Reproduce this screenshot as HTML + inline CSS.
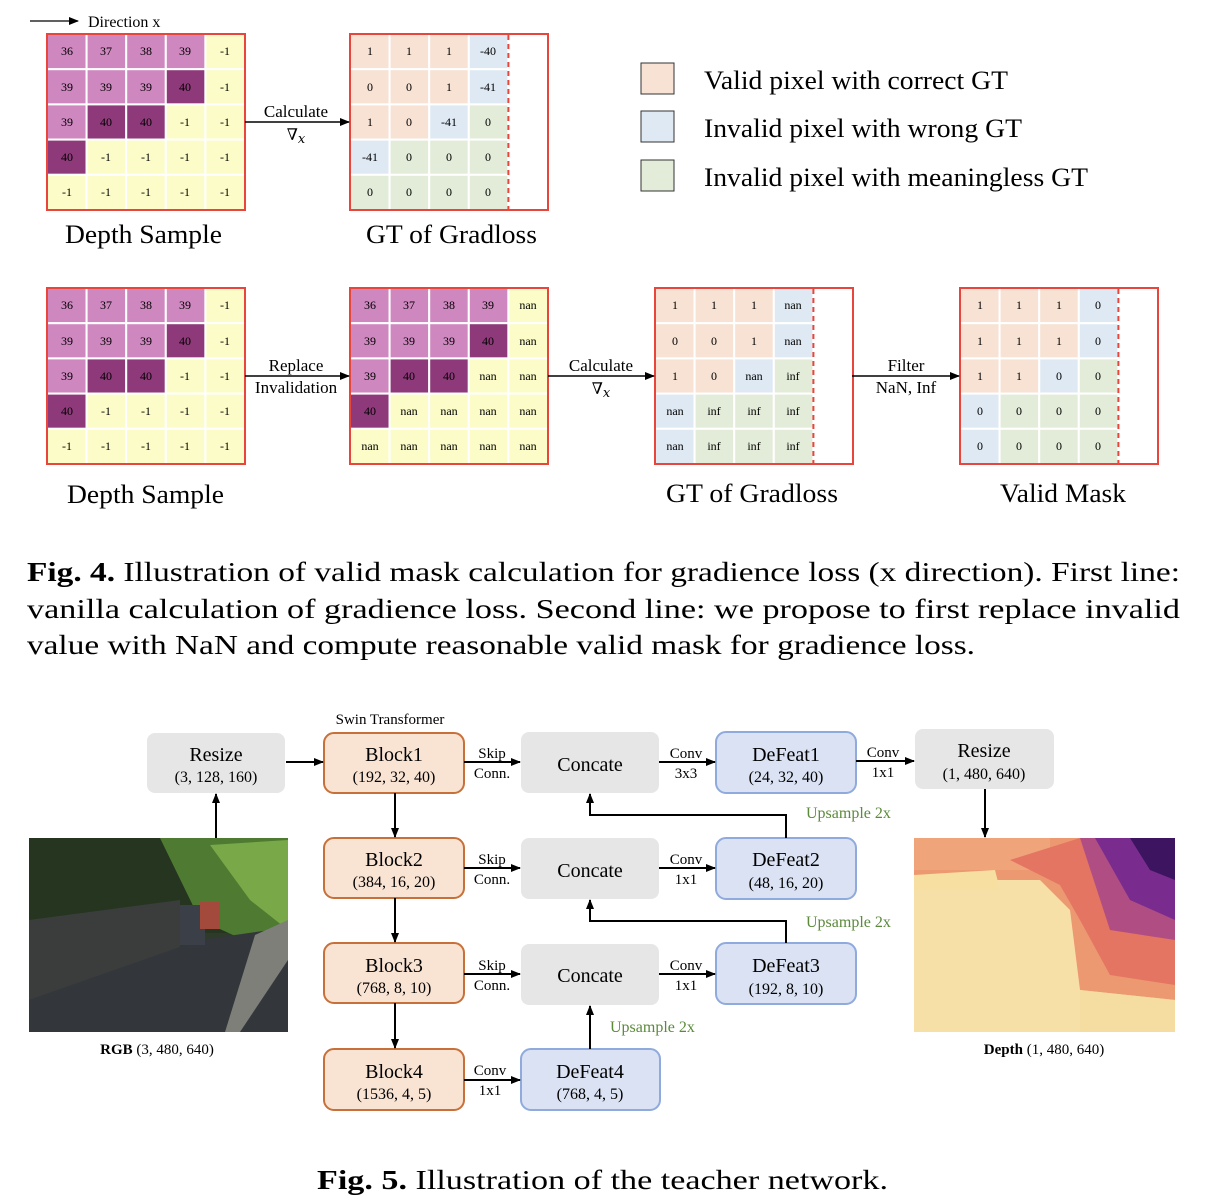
<!DOCTYPE html>
<html><head><meta charset="utf-8"><style>
body{margin:0;background:#fff;}
svg{display:block;font-family:"Liberation Serif",serif;}
.c text{font-size:12px;text-anchor:middle;dominant-baseline:central;}
</style></head><body>
<svg width="1210" height="1204" viewBox="0 0 1210 1204" xmlns="http://www.w3.org/2000/svg">
<defs>
<marker id="a" markerWidth="10" markerHeight="8" refX="9" refY="4" orient="auto" markerUnits="userSpaceOnUse"><path d="M0,0 L10,4 L0,8 Z" fill="#000"/></marker>
</defs>
<rect width="1210" height="1204" fill="#fff"/>

<!-- Direction x -->
<line x1="30" y1="21" x2="78" y2="21" stroke="#000" stroke-width="1.3" marker-end="url(#a)"/>
<text x="88" y="27" font-size="16">Direction x</text>

<!-- GRID 1 top -->
<g class="c" stroke="#fff" stroke-width="2">
<rect x="47" y="34" width="198" height="176" fill="#fbfcc8"/>
<rect x="47" y="34" width="39.6" height="35.2" fill="#cf87c0"/><rect x="86.6" y="34" width="39.6" height="35.2" fill="#cf87c0"/><rect x="126.2" y="34" width="39.6" height="35.2" fill="#cf87c0"/><rect x="165.8" y="34" width="39.6" height="35.2" fill="#cf87c0"/><rect x="205.4" y="34" width="39.6" height="35.2" fill="#fbfcc8"/>
<rect x="47" y="69.2" width="39.6" height="35.2" fill="#cf87c0"/><rect x="86.6" y="69.2" width="39.6" height="35.2" fill="#cf87c0"/><rect x="126.2" y="69.2" width="39.6" height="35.2" fill="#cf87c0"/><rect x="165.8" y="69.2" width="39.6" height="35.2" fill="#8e3a7a"/><rect x="205.4" y="69.2" width="39.6" height="35.2" fill="#fbfcc8"/>
<rect x="47" y="104.4" width="39.6" height="35.2" fill="#cf87c0"/><rect x="86.6" y="104.4" width="39.6" height="35.2" fill="#8e3a7a"/><rect x="126.2" y="104.4" width="39.6" height="35.2" fill="#8e3a7a"/><rect x="165.8" y="104.4" width="39.6" height="35.2" fill="#fbfcc8"/><rect x="205.4" y="104.4" width="39.6" height="35.2" fill="#fbfcc8"/>
<rect x="47" y="139.6" width="39.6" height="35.2" fill="#8e3a7a"/><rect x="86.6" y="139.6" width="39.6" height="35.2" fill="#fbfcc8"/><rect x="126.2" y="139.6" width="39.6" height="35.2" fill="#fbfcc8"/><rect x="165.8" y="139.6" width="39.6" height="35.2" fill="#fbfcc8"/><rect x="205.4" y="139.6" width="39.6" height="35.2" fill="#fbfcc8"/>
<rect x="47" y="174.8" width="39.6" height="35.2" fill="#fbfcc8"/><rect x="86.6" y="174.8" width="39.6" height="35.2" fill="#fbfcc8"/><rect x="126.2" y="174.8" width="39.6" height="35.2" fill="#fbfcc8"/><rect x="165.8" y="174.8" width="39.6" height="35.2" fill="#fbfcc8"/><rect x="205.4" y="174.8" width="39.6" height="35.2" fill="#fbfcc8"/>
<g stroke="none">
<text x="67" y="51">36</text><text x="106" y="51">37</text><text x="146" y="51">38</text><text x="185" y="51">39</text><text x="225" y="51">-1</text>
<text x="67" y="87">39</text><text x="106" y="87">39</text><text x="146" y="87">39</text><text x="185" y="87">40</text><text x="225" y="87">-1</text>
<text x="67" y="122">39</text><text x="106" y="122">40</text><text x="146" y="122">40</text><text x="185" y="122">-1</text><text x="225" y="122">-1</text>
<text x="67" y="157">40</text><text x="106" y="157">-1</text><text x="146" y="157">-1</text><text x="185" y="157">-1</text><text x="225" y="157">-1</text>
<text x="67" y="192">-1</text><text x="106" y="192">-1</text><text x="146" y="192">-1</text><text x="185" y="192">-1</text><text x="225" y="192">-1</text>
</g>
<rect x="47" y="34" width="198" height="176" fill="none" stroke="#e8453c"/>
</g>

<!-- GRID 2 top -->
<g class="c" stroke="#fff" stroke-width="2">
<rect x="350" y="34" width="198" height="176" fill="#fff"/>
<rect x="350" y="34" width="39.6" height="35.2" fill="#f7e2d4"/><rect x="389.6" y="34" width="39.6" height="35.2" fill="#f7e2d4"/><rect x="429.2" y="34" width="39.6" height="35.2" fill="#f7e2d4"/><rect x="468.8" y="34" width="39.6" height="35.2" fill="#dfe9f3"/>
<rect x="350" y="69.2" width="39.6" height="35.2" fill="#f7e2d4"/><rect x="389.6" y="69.2" width="39.6" height="35.2" fill="#f7e2d4"/><rect x="429.2" y="69.2" width="39.6" height="35.2" fill="#f7e2d4"/><rect x="468.8" y="69.2" width="39.6" height="35.2" fill="#dfe9f3"/>
<rect x="350" y="104.4" width="39.6" height="35.2" fill="#f7e2d4"/><rect x="389.6" y="104.4" width="39.6" height="35.2" fill="#f7e2d4"/><rect x="429.2" y="104.4" width="39.6" height="35.2" fill="#dfe9f3"/><rect x="468.8" y="104.4" width="39.6" height="35.2" fill="#e3ecd9"/>
<rect x="350" y="139.6" width="39.6" height="35.2" fill="#dfe9f3"/><rect x="389.6" y="139.6" width="39.6" height="35.2" fill="#e3ecd9"/><rect x="429.2" y="139.6" width="39.6" height="35.2" fill="#e3ecd9"/><rect x="468.8" y="139.6" width="39.6" height="35.2" fill="#e3ecd9"/>
<rect x="350" y="174.8" width="39.6" height="35.2" fill="#e3ecd9"/><rect x="389.6" y="174.8" width="39.6" height="35.2" fill="#e3ecd9"/><rect x="429.2" y="174.8" width="39.6" height="35.2" fill="#e3ecd9"/><rect x="468.8" y="174.8" width="39.6" height="35.2" fill="#e3ecd9"/>
<g stroke="none">
<text x="370" y="51">1</text><text x="409" y="51">1</text><text x="449" y="51">1</text><text x="488" y="51">-40</text>
<text x="370" y="87">0</text><text x="409" y="87">0</text><text x="449" y="87">1</text><text x="488" y="87">-41</text>
<text x="370" y="122">1</text><text x="409" y="122">0</text><text x="449" y="122">-41</text><text x="488" y="122">0</text>
<text x="370" y="157">-41</text><text x="409" y="157">0</text><text x="449" y="157">0</text><text x="488" y="157">0</text>
<text x="370" y="192">0</text><text x="409" y="192">0</text><text x="449" y="192">0</text><text x="488" y="192">0</text>
</g>
<line x1="508.4" y1="35" x2="508.4" y2="209" stroke="#e8453c" stroke-dasharray="5,4"/>
<rect x="350" y="34" width="198" height="176" fill="none" stroke="#e8453c"/>
</g>

<line x1="245" y1="122" x2="349" y2="122" stroke="#000" stroke-width="1.5" marker-end="url(#a)"/>
<text x="296" y="117" font-size="17" text-anchor="middle">Calculate</text>
<text x="296" y="140" font-size="16" text-anchor="middle" font-family="DejaVu Serif, serif">∇<tspan font-style="italic" font-size="13" dy="3">x</tspan></text>
<text x="65" y="243" font-size="26" textLength="157" lengthAdjust="spacingAndGlyphs">Depth Sample</text>
<text x="366" y="243" font-size="26" textLength="171" lengthAdjust="spacingAndGlyphs">GT of Gradloss</text>

<!-- legend -->
<rect x="641" y="63" width="33" height="31" fill="#f7e2d4" stroke="#333"/>
<rect x="641" y="111" width="33" height="31" fill="#dfe9f3" stroke="#333"/>
<rect x="641" y="160" width="33" height="31" fill="#e3ecd9" stroke="#333"/>
<text x="704" y="89" font-size="26" textLength="304" lengthAdjust="spacingAndGlyphs">Valid pixel with correct GT</text>
<text x="704" y="137" font-size="26" textLength="318" lengthAdjust="spacingAndGlyphs">Invalid pixel with wrong GT</text>
<text x="704" y="186" font-size="26" textLength="384" lengthAdjust="spacingAndGlyphs">Invalid pixel with meaningless GT</text>

<!-- ROW 2 grid 1 -->
<g class="c" stroke="#fff" stroke-width="2" transform="translate(0,254)">
<rect x="47" y="34" width="198" height="176" fill="#fbfcc8"/>
<rect x="47" y="34" width="39.6" height="35.2" fill="#cf87c0"/><rect x="86.6" y="34" width="39.6" height="35.2" fill="#cf87c0"/><rect x="126.2" y="34" width="39.6" height="35.2" fill="#cf87c0"/><rect x="165.8" y="34" width="39.6" height="35.2" fill="#cf87c0"/><rect x="205.4" y="34" width="39.6" height="35.2" fill="#fbfcc8"/>
<rect x="47" y="69.2" width="39.6" height="35.2" fill="#cf87c0"/><rect x="86.6" y="69.2" width="39.6" height="35.2" fill="#cf87c0"/><rect x="126.2" y="69.2" width="39.6" height="35.2" fill="#cf87c0"/><rect x="165.8" y="69.2" width="39.6" height="35.2" fill="#8e3a7a"/><rect x="205.4" y="69.2" width="39.6" height="35.2" fill="#fbfcc8"/>
<rect x="47" y="104.4" width="39.6" height="35.2" fill="#cf87c0"/><rect x="86.6" y="104.4" width="39.6" height="35.2" fill="#8e3a7a"/><rect x="126.2" y="104.4" width="39.6" height="35.2" fill="#8e3a7a"/><rect x="165.8" y="104.4" width="39.6" height="35.2" fill="#fbfcc8"/><rect x="205.4" y="104.4" width="39.6" height="35.2" fill="#fbfcc8"/>
<rect x="47" y="139.6" width="39.6" height="35.2" fill="#8e3a7a"/><rect x="86.6" y="139.6" width="39.6" height="35.2" fill="#fbfcc8"/><rect x="126.2" y="139.6" width="39.6" height="35.2" fill="#fbfcc8"/><rect x="165.8" y="139.6" width="39.6" height="35.2" fill="#fbfcc8"/><rect x="205.4" y="139.6" width="39.6" height="35.2" fill="#fbfcc8"/>
<rect x="47" y="174.8" width="39.6" height="35.2" fill="#fbfcc8"/><rect x="86.6" y="174.8" width="39.6" height="35.2" fill="#fbfcc8"/><rect x="126.2" y="174.8" width="39.6" height="35.2" fill="#fbfcc8"/><rect x="165.8" y="174.8" width="39.6" height="35.2" fill="#fbfcc8"/><rect x="205.4" y="174.8" width="39.6" height="35.2" fill="#fbfcc8"/>
<g stroke="none">
<text x="67" y="51">36</text><text x="106" y="51">37</text><text x="146" y="51">38</text><text x="185" y="51">39</text><text x="225" y="51">-1</text>
<text x="67" y="87">39</text><text x="106" y="87">39</text><text x="146" y="87">39</text><text x="185" y="87">40</text><text x="225" y="87">-1</text>
<text x="67" y="122">39</text><text x="106" y="122">40</text><text x="146" y="122">40</text><text x="185" y="122">-1</text><text x="225" y="122">-1</text>
<text x="67" y="157">40</text><text x="106" y="157">-1</text><text x="146" y="157">-1</text><text x="185" y="157">-1</text><text x="225" y="157">-1</text>
<text x="67" y="192">-1</text><text x="106" y="192">-1</text><text x="146" y="192">-1</text><text x="185" y="192">-1</text><text x="225" y="192">-1</text>
</g>
<rect x="47" y="34" width="198" height="176" fill="none" stroke="#e8453c"/>
</g>

<!-- ROW 2 grid 2 (nan) -->
<g class="c" stroke="#fff" stroke-width="2" transform="translate(303,254)">
<rect x="47" y="34" width="198" height="176" fill="#fbfcc8"/>
<rect x="47" y="34" width="39.6" height="35.2" fill="#cf87c0"/><rect x="86.6" y="34" width="39.6" height="35.2" fill="#cf87c0"/><rect x="126.2" y="34" width="39.6" height="35.2" fill="#cf87c0"/><rect x="165.8" y="34" width="39.6" height="35.2" fill="#cf87c0"/><rect x="205.4" y="34" width="39.6" height="35.2" fill="#fbfcc8"/>
<rect x="47" y="69.2" width="39.6" height="35.2" fill="#cf87c0"/><rect x="86.6" y="69.2" width="39.6" height="35.2" fill="#cf87c0"/><rect x="126.2" y="69.2" width="39.6" height="35.2" fill="#cf87c0"/><rect x="165.8" y="69.2" width="39.6" height="35.2" fill="#8e3a7a"/><rect x="205.4" y="69.2" width="39.6" height="35.2" fill="#fbfcc8"/>
<rect x="47" y="104.4" width="39.6" height="35.2" fill="#cf87c0"/><rect x="86.6" y="104.4" width="39.6" height="35.2" fill="#8e3a7a"/><rect x="126.2" y="104.4" width="39.6" height="35.2" fill="#8e3a7a"/><rect x="165.8" y="104.4" width="39.6" height="35.2" fill="#fbfcc8"/><rect x="205.4" y="104.4" width="39.6" height="35.2" fill="#fbfcc8"/>
<rect x="47" y="139.6" width="39.6" height="35.2" fill="#8e3a7a"/><rect x="86.6" y="139.6" width="39.6" height="35.2" fill="#fbfcc8"/><rect x="126.2" y="139.6" width="39.6" height="35.2" fill="#fbfcc8"/><rect x="165.8" y="139.6" width="39.6" height="35.2" fill="#fbfcc8"/><rect x="205.4" y="139.6" width="39.6" height="35.2" fill="#fbfcc8"/>
<rect x="47" y="174.8" width="39.6" height="35.2" fill="#fbfcc8"/><rect x="86.6" y="174.8" width="39.6" height="35.2" fill="#fbfcc8"/><rect x="126.2" y="174.8" width="39.6" height="35.2" fill="#fbfcc8"/><rect x="165.8" y="174.8" width="39.6" height="35.2" fill="#fbfcc8"/><rect x="205.4" y="174.8" width="39.6" height="35.2" fill="#fbfcc8"/>
<g stroke="none">
<text x="67" y="51">36</text><text x="106" y="51">37</text><text x="146" y="51">38</text><text x="185" y="51">39</text><text x="225" y="51">nan</text>
<text x="67" y="87">39</text><text x="106" y="87">39</text><text x="146" y="87">39</text><text x="185" y="87">40</text><text x="225" y="87">nan</text>
<text x="67" y="122">39</text><text x="106" y="122">40</text><text x="146" y="122">40</text><text x="185" y="122">nan</text><text x="225" y="122">nan</text>
<text x="67" y="157">40</text><text x="106" y="157">nan</text><text x="146" y="157">nan</text><text x="185" y="157">nan</text><text x="225" y="157">nan</text>
<text x="67" y="192">nan</text><text x="106" y="192">nan</text><text x="146" y="192">nan</text><text x="185" y="192">nan</text><text x="225" y="192">nan</text>
</g>
<rect x="47" y="34" width="198" height="176" fill="none" stroke="#e8453c"/>
</g>

<!-- ROW 2 grid 3 -->
<g class="c" stroke="#fff" stroke-width="2" transform="translate(305,254)">
<rect x="350" y="34" width="198" height="176" fill="#fff"/>
<rect x="350" y="34" width="39.6" height="35.2" fill="#f7e2d4"/><rect x="389.6" y="34" width="39.6" height="35.2" fill="#f7e2d4"/><rect x="429.2" y="34" width="39.6" height="35.2" fill="#f7e2d4"/><rect x="468.8" y="34" width="39.6" height="35.2" fill="#dfe9f3"/>
<rect x="350" y="69.2" width="39.6" height="35.2" fill="#f7e2d4"/><rect x="389.6" y="69.2" width="39.6" height="35.2" fill="#f7e2d4"/><rect x="429.2" y="69.2" width="39.6" height="35.2" fill="#f7e2d4"/><rect x="468.8" y="69.2" width="39.6" height="35.2" fill="#dfe9f3"/>
<rect x="350" y="104.4" width="39.6" height="35.2" fill="#f7e2d4"/><rect x="389.6" y="104.4" width="39.6" height="35.2" fill="#f7e2d4"/><rect x="429.2" y="104.4" width="39.6" height="35.2" fill="#dfe9f3"/><rect x="468.8" y="104.4" width="39.6" height="35.2" fill="#e3ecd9"/>
<rect x="350" y="139.6" width="39.6" height="35.2" fill="#dfe9f3"/><rect x="389.6" y="139.6" width="39.6" height="35.2" fill="#e3ecd9"/><rect x="429.2" y="139.6" width="39.6" height="35.2" fill="#e3ecd9"/><rect x="468.8" y="139.6" width="39.6" height="35.2" fill="#e3ecd9"/>
<rect x="350" y="174.8" width="39.6" height="35.2" fill="#dfe9f3"/><rect x="389.6" y="174.8" width="39.6" height="35.2" fill="#e3ecd9"/><rect x="429.2" y="174.8" width="39.6" height="35.2" fill="#e3ecd9"/><rect x="468.8" y="174.8" width="39.6" height="35.2" fill="#e3ecd9"/>
<g stroke="none">
<text x="370" y="51">1</text><text x="409" y="51">1</text><text x="449" y="51">1</text><text x="488" y="51">nan</text>
<text x="370" y="87">0</text><text x="409" y="87">0</text><text x="449" y="87">1</text><text x="488" y="87">nan</text>
<text x="370" y="122">1</text><text x="409" y="122">0</text><text x="449" y="122">nan</text><text x="488" y="122">inf</text>
<text x="370" y="157">nan</text><text x="409" y="157">inf</text><text x="449" y="157">inf</text><text x="488" y="157">inf</text>
<text x="370" y="192">nan</text><text x="409" y="192">inf</text><text x="449" y="192">inf</text><text x="488" y="192">inf</text>
</g>
<line x1="508.4" y1="35" x2="508.4" y2="209" stroke="#e8453c" stroke-dasharray="5,4"/>
<rect x="350" y="34" width="198" height="176" fill="none" stroke="#e8453c"/>
</g>

<!-- ROW 2 grid 4 -->
<g class="c" stroke="#fff" stroke-width="2" transform="translate(610,254)">
<rect x="350" y="34" width="198" height="176" fill="#fff"/>
<rect x="350" y="34" width="39.6" height="35.2" fill="#f7e2d4"/><rect x="389.6" y="34" width="39.6" height="35.2" fill="#f7e2d4"/><rect x="429.2" y="34" width="39.6" height="35.2" fill="#f7e2d4"/><rect x="468.8" y="34" width="39.6" height="35.2" fill="#dfe9f3"/>
<rect x="350" y="69.2" width="39.6" height="35.2" fill="#f7e2d4"/><rect x="389.6" y="69.2" width="39.6" height="35.2" fill="#f7e2d4"/><rect x="429.2" y="69.2" width="39.6" height="35.2" fill="#f7e2d4"/><rect x="468.8" y="69.2" width="39.6" height="35.2" fill="#dfe9f3"/>
<rect x="350" y="104.4" width="39.6" height="35.2" fill="#f7e2d4"/><rect x="389.6" y="104.4" width="39.6" height="35.2" fill="#f7e2d4"/><rect x="429.2" y="104.4" width="39.6" height="35.2" fill="#dfe9f3"/><rect x="468.8" y="104.4" width="39.6" height="35.2" fill="#e3ecd9"/>
<rect x="350" y="139.6" width="39.6" height="35.2" fill="#dfe9f3"/><rect x="389.6" y="139.6" width="39.6" height="35.2" fill="#e3ecd9"/><rect x="429.2" y="139.6" width="39.6" height="35.2" fill="#e3ecd9"/><rect x="468.8" y="139.6" width="39.6" height="35.2" fill="#e3ecd9"/>
<rect x="350" y="174.8" width="39.6" height="35.2" fill="#dfe9f3"/><rect x="389.6" y="174.8" width="39.6" height="35.2" fill="#e3ecd9"/><rect x="429.2" y="174.8" width="39.6" height="35.2" fill="#e3ecd9"/><rect x="468.8" y="174.8" width="39.6" height="35.2" fill="#e3ecd9"/>
<g stroke="none">
<text x="370" y="51">1</text><text x="409" y="51">1</text><text x="449" y="51">1</text><text x="488" y="51">0</text>
<text x="370" y="87">1</text><text x="409" y="87">1</text><text x="449" y="87">1</text><text x="488" y="87">0</text>
<text x="370" y="122">1</text><text x="409" y="122">1</text><text x="449" y="122">0</text><text x="488" y="122">0</text>
<text x="370" y="157">0</text><text x="409" y="157">0</text><text x="449" y="157">0</text><text x="488" y="157">0</text>
<text x="370" y="192">0</text><text x="409" y="192">0</text><text x="449" y="192">0</text><text x="488" y="192">0</text>
</g>
<line x1="508.4" y1="35" x2="508.4" y2="209" stroke="#e8453c" stroke-dasharray="5,4"/>
<rect x="350" y="34" width="198" height="176" fill="none" stroke="#e8453c"/>
</g>

<line x1="245" y1="376" x2="349" y2="376" stroke="#000" stroke-width="1.5" marker-end="url(#a)"/>
<text x="296" y="371" font-size="17" text-anchor="middle">Replace</text>
<text x="296" y="393" font-size="17" text-anchor="middle">Invalidation</text>
<line x1="548" y1="376" x2="654" y2="376" stroke="#000" stroke-width="1.5" marker-end="url(#a)"/>
<text x="601" y="371" font-size="17" text-anchor="middle">Calculate</text>
<text x="601" y="394" font-size="16" text-anchor="middle" font-family="DejaVu Serif, serif">∇<tspan font-style="italic" font-size="13" dy="3">x</tspan></text>
<line x1="852" y1="376" x2="959" y2="376" stroke="#000" stroke-width="1.5" marker-end="url(#a)"/>
<text x="906" y="371" font-size="17" text-anchor="middle">Filter</text>
<text x="906" y="393" font-size="17" text-anchor="middle">NaN, Inf</text>

<text x="67" y="503" font-size="26" textLength="157" lengthAdjust="spacingAndGlyphs">Depth Sample</text>
<text x="666" y="502" font-size="26" textLength="172" lengthAdjust="spacingAndGlyphs">GT of Gradloss</text>
<text x="1000" y="502" font-size="26" textLength="126" lengthAdjust="spacingAndGlyphs">Valid Mask</text>

<!-- caption 4 -->
<text x="27" y="581" font-size="27" textLength="1153" lengthAdjust="spacingAndGlyphs"><tspan font-weight="bold">Fig. 4.</tspan> Illustration of valid mask calculation for gradience loss (x direction). First line:</text>
<text x="27" y="618" font-size="27" textLength="1153" lengthAdjust="spacingAndGlyphs">vanilla calculation of gradience loss. Second line: we propose to first replace invalid</text>
<text x="27" y="654" font-size="27" textLength="948" lengthAdjust="spacingAndGlyphs">value with NaN and compute reasonable valid mask for gradience loss.</text>

<!-- NETWORK -->
<text x="390" y="724" font-size="15" text-anchor="middle">Swin Transformer</text>
<g font-size="20" text-anchor="middle">
<rect x="147" y="733" width="138" height="60" rx="8" fill="#e6e6e6"/>
<text x="216" y="761">Resize</text><text x="216" y="782" font-size="16">(3, 128, 160)</text>
<rect x="324" y="733" width="140" height="60" rx="10" fill="#f9e3d3" stroke="#c8703a" stroke-width="2"/>
<text x="394" y="761">Block1</text><text x="394" y="782" font-size="16">(192, 32, 40)</text>
<rect x="324" y="838" width="140" height="60" rx="10" fill="#f9e3d3" stroke="#c8703a" stroke-width="2"/>
<text x="394" y="866">Block2</text><text x="394" y="887" font-size="16">(384, 16, 20)</text>
<rect x="324" y="943" width="140" height="60" rx="10" fill="#f9e3d3" stroke="#c8703a" stroke-width="2"/>
<text x="394" y="972">Block3</text><text x="394" y="993" font-size="16">(768, 8, 10)</text>
<rect x="324" y="1049" width="140" height="61" rx="10" fill="#f9e3d3" stroke="#c8703a" stroke-width="2"/>
<text x="394" y="1078">Block4</text><text x="394" y="1099" font-size="16">(1536, 4, 5)</text>

<rect x="521" y="732" width="138" height="61" rx="8" fill="#e6e6e6"/><text x="590" y="771">Concate</text>
<rect x="521" y="838" width="138" height="61" rx="8" fill="#e6e6e6"/><text x="590" y="877">Concate</text>
<rect x="521" y="944" width="138" height="61" rx="8" fill="#e6e6e6"/><text x="590" y="982">Concate</text>

<rect x="716" y="732" width="140" height="61" rx="10" fill="#dae2f3" stroke="#8faadc" stroke-width="2"/>
<text x="786" y="761">DeFeat1</text><text x="786" y="782" font-size="16">(24, 32, 40)</text>
<rect x="716" y="838" width="140" height="61" rx="10" fill="#dae2f3" stroke="#8faadc" stroke-width="2"/>
<text x="786" y="866">DeFeat2</text><text x="786" y="888" font-size="16">(48, 16, 20)</text>
<rect x="716" y="943" width="140" height="61" rx="10" fill="#dae2f3" stroke="#8faadc" stroke-width="2"/>
<text x="786" y="972">DeFeat3</text><text x="786" y="994" font-size="16">(192, 8, 10)</text>
<rect x="521" y="1049" width="139" height="61" rx="10" fill="#dae2f3" stroke="#8faadc" stroke-width="2"/>
<text x="590" y="1078">DeFeat4</text><text x="590" y="1099" font-size="16">(768, 4, 5)</text>

<rect x="915" y="729" width="139" height="60" rx="8" fill="#e6e6e6"/>
<text x="984" y="757">Resize</text><text x="984" y="779" font-size="16">(1, 480, 640)</text>
</g>

<g stroke="#000" stroke-width="2" fill="none">
<line x1="286" y1="762" x2="323" y2="762" marker-end="url(#a)"/>
<line x1="216" y1="838" x2="216" y2="794" marker-end="url(#a)"/>
<line x1="395" y1="793" x2="395" y2="837" marker-end="url(#a)"/>
<line x1="395" y1="898" x2="395" y2="942" marker-end="url(#a)"/>
<line x1="395" y1="1003" x2="395" y2="1048" marker-end="url(#a)"/>
<line x1="464" y1="762" x2="520" y2="762" marker-end="url(#a)"/>
<line x1="464" y1="868" x2="520" y2="868" marker-end="url(#a)"/>
<line x1="464" y1="974" x2="520" y2="974" marker-end="url(#a)"/>
<line x1="464" y1="1080" x2="520" y2="1080" marker-end="url(#a)"/>
<line x1="659" y1="762" x2="715" y2="762" marker-end="url(#a)"/>
<line x1="659" y1="868" x2="715" y2="868" marker-end="url(#a)"/>
<line x1="659" y1="974" x2="715" y2="974" marker-end="url(#a)"/>
<line x1="856" y1="761" x2="914" y2="761" marker-end="url(#a)"/>
<line x1="985" y1="789" x2="985" y2="837" marker-end="url(#a)"/>
<polyline points="786,838 786,815 590,815 590,794" marker-end="url(#a)"/>
<polyline points="786,943 786,921 590,921 590,900" marker-end="url(#a)"/>
<line x1="590" y1="1049" x2="590" y2="1006" marker-end="url(#a)"/>
</g>
<g font-size="15" text-anchor="middle">
<text x="492" y="758">Skip</text><text x="492" y="778">Conn.</text>
<text x="492" y="864">Skip</text><text x="492" y="884">Conn.</text>
<text x="492" y="970">Skip</text><text x="492" y="990">Conn.</text>
<text x="490" y="1075">Conv</text><text x="490" y="1095">1x1</text>
<text x="686" y="758">Conv</text><text x="686" y="778">3x3</text>
<text x="686" y="864">Conv</text><text x="686" y="884">1x1</text>
<text x="686" y="970">Conv</text><text x="686" y="990">1x1</text>
<text x="883" y="757">Conv</text><text x="883" y="777">1x1</text>
</g>
<g font-size="16" fill="#5a8a3a">
<text x="806" y="818">Upsample 2x</text>
<text x="806" y="927">Upsample 2x</text>
<text x="610" y="1032">Upsample 2x</text>
</g>

<!-- RGB photo -->
<rect x="29" y="838" width="259" height="194" fill="#2e3a2a"/>
<rect x="29" y="838" width="259" height="95" fill="#25351f"/>
<polygon points="160,838 288,838 288,960 200,920" fill="#4e7a32"/>
<polygon points="210,845 288,840 288,930 250,900" fill="#78a848"/>
<polygon points="29,920 180,900 180,1032 29,1032" fill="#3a3d3c"/>
<polygon points="29,1000 200,940 270,930 288,930 288,1032 29,1032" fill="#33363a"/>
<polygon points="255,935 288,920 288,960 240,1032 225,1032" fill="#7d7f78"/>
<rect x="180" y="905" width="25" height="40" fill="#3a3f48"/>
<rect x="200" y="902" width="20" height="27" fill="#a34a3c"/>
<text x="157" y="1054" font-size="15" text-anchor="middle"><tspan font-weight="bold">RGB</tspan> (3, 480, 640)</text>

<!-- Depth map -->
<rect x="914" y="838" width="261" height="194" fill="#f7e0a8"/>
<polygon points="914,838 1175,838 1175,1000 1080,990 1070,910 1050,890 1040,880 914,880" fill="#ec9870"/>
<polygon points="914,838 1050,838 1050,870 914,870" fill="#f0a47a"/>
<polygon points="1010,860 1080,838 1175,838 1175,985 1110,975 1080,920 1060,885" fill="#e47562"/>
<polygon points="1080,838 1175,838 1175,940 1110,930" fill="#b04e84"/>
<polygon points="1095,838 1175,838 1175,920 1130,900" fill="#7a2c8e"/>
<polygon points="1130,838 1175,838 1175,880 1150,870" fill="#3c1460"/>
<polygon points="914,875 995,870 1000,890 914,890" fill="#f6dfa0"/>
<polygon points="1080,990 1175,1000 1175,1032 1080,1032" fill="#f5dca0"/>
<text x="1044" y="1054" font-size="15" text-anchor="middle"><tspan font-weight="bold">Depth</tspan> (1, 480, 640)</text>

<text x="317" y="1189" font-size="27" textLength="571" lengthAdjust="spacingAndGlyphs"><tspan font-weight="bold">Fig. 5.</tspan> Illustration of the teacher network.</text>
</svg>
</body></html>
